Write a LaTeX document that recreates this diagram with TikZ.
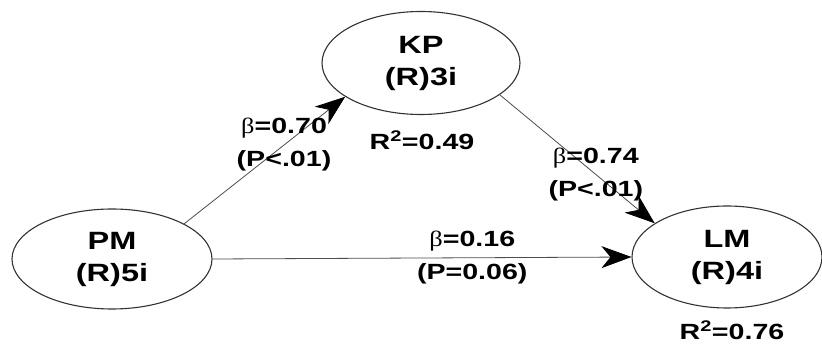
\documentclass[tikz,border=0pt]{standalone}
\usepackage{fontspec}
\setmainfont[FakeStretch=1.3]{Liberation Sans}
\newfontfamily\greekfont[FakeStretch=1.2]{Liberation Serif}
\usetikzlibrary{arrows.meta,shapes.geometric}
\tikzset{lat/.style={ellipse,draw=black!80,line width=1.1pt,inner sep=0pt,align=center,
           font=\fontsize{25}{32}\selectfont\bfseries},
         path/.style={-{Stealth[length=30pt,width=22pt,inset=9pt,black]},line width=.8pt,black!70},
         coef/.style={align=center,text=black,font=\fontsize{22}{33}\selectfont\bfseries}}
\newcommand{\bt}{{\greekfont\mdseries β}}

\begin{document}
\begin{tikzpicture}[x=1pt,y=1pt]
  \useasboundingbox (0,0) rectangle (822,345);
  \node[lat,minimum width=200pt,minimum height=100pt] (PM) at (112,86) {PM\\(R)5i};
  \node[lat,minimum width=198pt,minimum height=103pt] (KP) at (421,282) {KP\\(R)3i};
  \node[lat,minimum width=190pt,minimum height=102pt] (LM) at (727,88) {LM\\(R)4i};
  \node[coef] (rkp) at (422,205) {R\textsuperscript{2}=0.49};
  \node[coef] (rlm) at (732,15) {R\textsuperscript{2}=0.76};
  \draw[path] (PM.26)--node[coef,pos=.62]{\bt=0.70\\(P<.01)} (KP.204);
  \draw[path] (KP.-22)--node[coef,pos=.62]{\bt=0.74\\(P<.01)} (LM.155);
  \draw[path] (PM.east)--node[coef,pos=.62]{\bt=0.16\\(P=0.06)} (LM.west);
\end{tikzpicture}
\end{document}
